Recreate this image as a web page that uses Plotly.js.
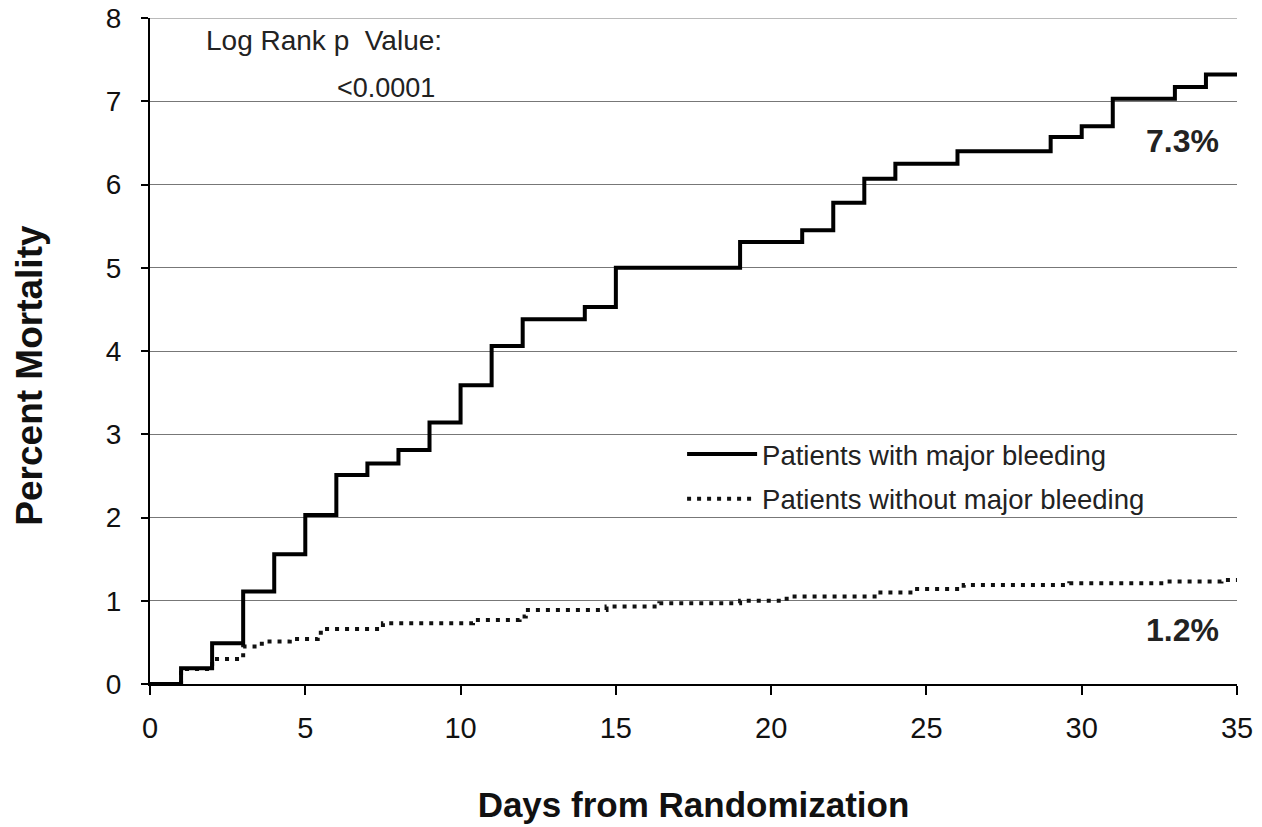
<!DOCTYPE html>
<html>
<head>
<meta charset="utf-8">
<script src="https://cdn.plot.ly/plotly-3.0.1.min.js"></script>
<style>html,body{margin:0;padding:0;background:#fff;}#chart{width:1262px;height:827px;}</style>
</head>
<body>
<div id="chart"></div>
<script>
// Patients with major bleeding (Kaplan-Meier step curve)
const bleedDays = [0,1,2,3,4,5,6,7,8,9,10,11,12,14,15,19,21,22,23,24,26,29,30,31,33,34,35];
const bleedPct  = [0,0.19,0.49,1.11,1.56,2.03,2.51,2.65,2.81,3.14,3.59,4.06,4.38,4.53,5.0,5.31,5.45,5.78,6.07,6.25,6.4,6.57,6.7,7.03,7.17,7.32,7.32];
// Patients without major bleeding
const noBleedDays = [0,1,2,3,3.6,4.5,5.4,5.5,7.5,10.4,11.9,12.1,14.7,16.4,19,20.5,23.4,24.6,26.2,29.6,32.7,34.5,35];
const noBleedPct  = [0,0.18,0.3,0.45,0.51,0.54,0.58,0.66,0.73,0.77,0.81,0.89,0.93,0.97,1.0,1.05,1.1,1.14,1.19,1.21,1.23,1.25,1.25];
const seriesNames = ["Patients with major bleeding","Patients without major bleeding"];
const xTicks = [0,5,10,15,20,25,30,35];
const yTicks = [0,1,2,3,4,5,6,7,8];

const FONT = "Liberation Sans, Arial, Helvetica, sans-serif";

const traces = [
  {x: noBleedDays, y: noBleedPct, mode: "lines", line: {shape: "hv", color: "#111", width: 4, dash: "4px,6px"},
   name: seriesNames[1], legendgroup: "b", legendrank: 2},
  {x: bleedDays, y: bleedPct, mode: "lines", line: {shape: "hv", color: "#000", width: 4},
   name: seriesNames[0], legendgroup: "a", legendrank: 1}
];

const layout = {
  width: 1262, height: 827,
  margin: {l: 150, r: 25, t: 18, b: 143},
  paper_bgcolor: "#fff", plot_bgcolor: "#fff",
  font: {family: FONT, color: "#111"},
  showlegend: true,
  legend: {x: 0.4895, xanchor: "left", y: 0.382, yanchor: "top", font: {size: 27.5, family: FONT, color: "#222"},
           traceorder: "grouped", tracegroupgap: 6, itemwidth: 70, bgcolor: "rgba(255,255,255,0)"},
  xaxis: {range: [0, 35], tickvals: xTicks, ticktext: xTicks.map(String), ticks: "outside", ticklen: 9, tickwidth: 2, tickcolor: "#000",
          showline: true, linecolor: "#000", linewidth: 2, showgrid: false, zeroline: false, ticklabelstandoff: 8,
          tickfont: {size: 29, family: FONT, color: "#111"},
          title: {text: "<b>Days from Randomization</b>", font: {size: 35, family: FONT, color: "#111"}, standoff: 50}},
  yaxis: {range: [0, 8], tickvals: yTicks, ticktext: yTicks.map(String), ticks: "outside", ticklen: 7, tickwidth: 2, tickcolor: "#000",
          showline: true, linecolor: "#000", linewidth: 2, showgrid: true, gridcolor: "#777", gridwidth: 1, zeroline: false,
          ticklabelstandoff: 14,
          tickfont: {size: 28, family: FONT, color: "#111"}},
  shapes: [
    {type: "line", xref: "paper", yref: "y", x0: 0, x1: 1, y0: 8, y1: 8, line: {color: "#777", width: 1}, layer: "below"}
  ],
  annotations: [
    {xref: "paper", yref: "paper", x: -0.1104, y: 0.4645, xanchor: "center", yanchor: "middle", showarrow: false, textangle: -90,
     text: "<b>Percent Mortality</b>", font: {size: 37, family: FONT, color: "#111"}},
    {xref: "paper", yref: "paper", x: 0.05, y: 0.966, xanchor: "left", yanchor: "middle", showarrow: false,
     text: "Log Rank p  Value:", font: {size: 28, family: FONT, color: "#222"}},
    {xref: "paper", yref: "paper", x: 0.264, y: 0.895, xanchor: "right", yanchor: "middle", showarrow: false,
     text: "<0.0001", font: {size: 27, family: FONT, color: "#222"}},
    {xref: "paper", yref: "y", x: 0.985, y: 6.52, xanchor: "right", yanchor: "middle", showarrow: false,
     text: "<b>7.3%</b>", font: {size: 32, family: FONT, color: "#222"}},
    {xref: "paper", yref: "y", x: 0.985, y: 0.65, xanchor: "right", yanchor: "middle", showarrow: false,
     text: "<b>1.2%</b>", font: {size: 32, family: FONT, color: "#222"}}
  ]
};

Plotly.newPlot("chart", traces, layout, {displayModeBar: false, staticPlot: true});
</script>
</body>
</html>
